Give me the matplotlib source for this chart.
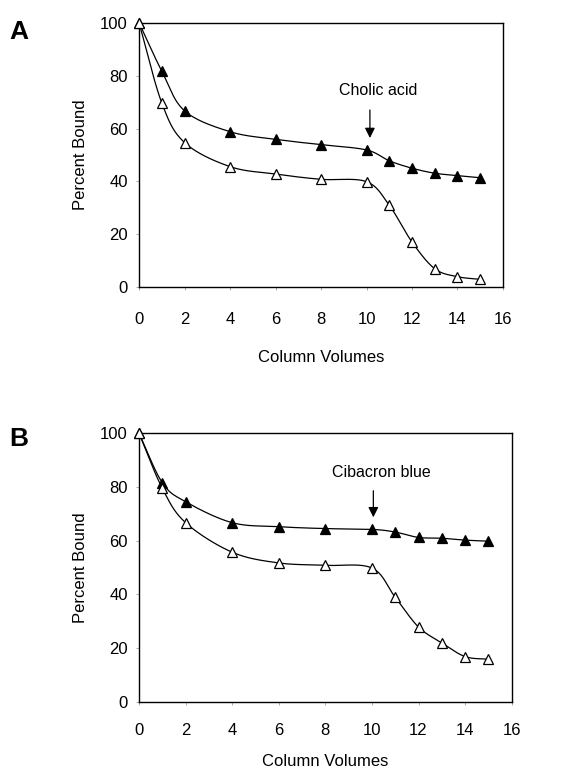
import numpy as np
import matplotlib
matplotlib.use("Agg")
import matplotlib.pyplot as plt

plt.rcParams['font.family'] = ['Liberation Sans', 'DejaVu Sans']

# column volumes
volumes = [0, 1, 2, 4, 6, 8, 10, 11, 12, 13, 14, 15]

# panel A (cholic acid)
a_filled = [100, 81.7, 66.7, 58.8, 55.9, 53.9, 51.9, 47.8, 45.0, 43.1, 42.2, 41.4]
a_open = [100, 69.7, 54.7, 45.6, 42.8, 40.8, 39.9, 31.0, 17.1, 7.0, 4.0, 3.0]

# panel B (cibacron blue)
b_filled = [100, 81.6, 74.5, 66.7, 65.2, 64.5, 64.2, 63.2, 61.2, 60.9, 60.2, 59.8]
b_open = [100, 79.5, 66.7, 55.7, 51.7, 50.8, 49.8, 38.9, 27.8, 21.9, 16.8, 15.8]

x_ticks = [0, 2, 4, 6, 8, 10, 12, 14, 16]
y_ticks = [0, 20, 40, 60, 80, 100]


# smooth line through the points like the spreadsheet "smoothed line" option
def smooth(xs, ys, n=30):
    xs = np.asarray(xs, float)
    ys = np.asarray(ys, float)
    px = np.concatenate([[2 * xs[0] - xs[1]], xs, [2 * xs[-1] - xs[-2]]])
    py = np.concatenate([[2 * ys[0] - ys[1]], ys, [2 * ys[-1] - ys[-2]]])
    out_x, out_y = [], []
    t = np.linspace(0, 1, n)
    for i in range(1, len(px) - 2):
        for p, out in ((px, out_x), (py, out_y)):
            p0, p1, p2, p3 = p[i - 1], p[i], p[i + 1], p[i + 2]
            seg = 0.5 * (2 * p1 + (-p0 + p2) * t + (2 * p0 - 5 * p1 + 4 * p2 - p3) * t ** 2
                         + (-p0 + 3 * p1 - 3 * p2 + p3) * t ** 3)
            out.extend(seg)
    return np.array(out_x), np.array(out_y)


def panel(ax, filled, opened, label, ann_x, ann_text_y, arrow_top, arrow_bot, xpad, xlpad):
    for ys, face in ((filled, 'black'), (opened, 'white')):
        sx, sy = smooth(volumes, ys)
        ax.plot(sx, sy, color='black', lw=0.9, zorder=2)
        ax.plot(volumes, ys, ls='none', marker='^', ms=6.5, mfc=face,
                mec='black', mew=0.9, zorder=3, clip_on=False)
    ax.set_xlim(0, 16)
    ax.set_ylim(0, 100)
    ax.set_xticks(x_ticks)
    ax.set_yticks(y_ticks)
    ax.tick_params(labelsize=12, length=2, width=0.5, color='#888888')
    ax.tick_params(axis='x', pad=xpad)
    ax.tick_params(axis='y', pad=6)
    for s in ax.spines.values():
        s.set_linewidth(1.0)
    ax.set_ylabel('Percent Bound', fontsize=12, labelpad=9)
    ax.set_xlabel('Column Volumes', fontsize=12, labelpad=xlpad)
    ax.annotate('', xy=(ann_x, arrow_bot), xytext=(ann_x, arrow_top),
                arrowprops=dict(arrowstyle='-|>', color='black', lw=0.9,
                                mutation_scale=15, shrinkA=0, shrinkB=0))
    ax.text(ann_x + 0.35, ann_text_y, label, fontsize=11.5, ha='center', va='center')


fig = plt.figure(figsize=(5.69, 7.71), dpi=100)
ax_a = fig.add_axes([0.2443, 0.6274, 0.6397, 0.3432])
ax_b = fig.add_axes([0.2443, 0.0899, 0.6550, 0.3481])

panel(ax_a, a_filled, a_open, 'Cholic acid', 10.15, 74.2, 67, 56.4, 15.5, 17)
panel(ax_b, b_filled, b_open, 'Cibacron blue', 10.06, 85.3, 78.6, 68.7, 13, 12)

fig.text(0.016, 0.958, 'A', fontsize=19, fontweight='bold', va='center')
fig.text(0.016, 0.431, 'B', fontsize=19, fontweight='bold', va='center')

fig.savefig('out.png', dpi=100)
